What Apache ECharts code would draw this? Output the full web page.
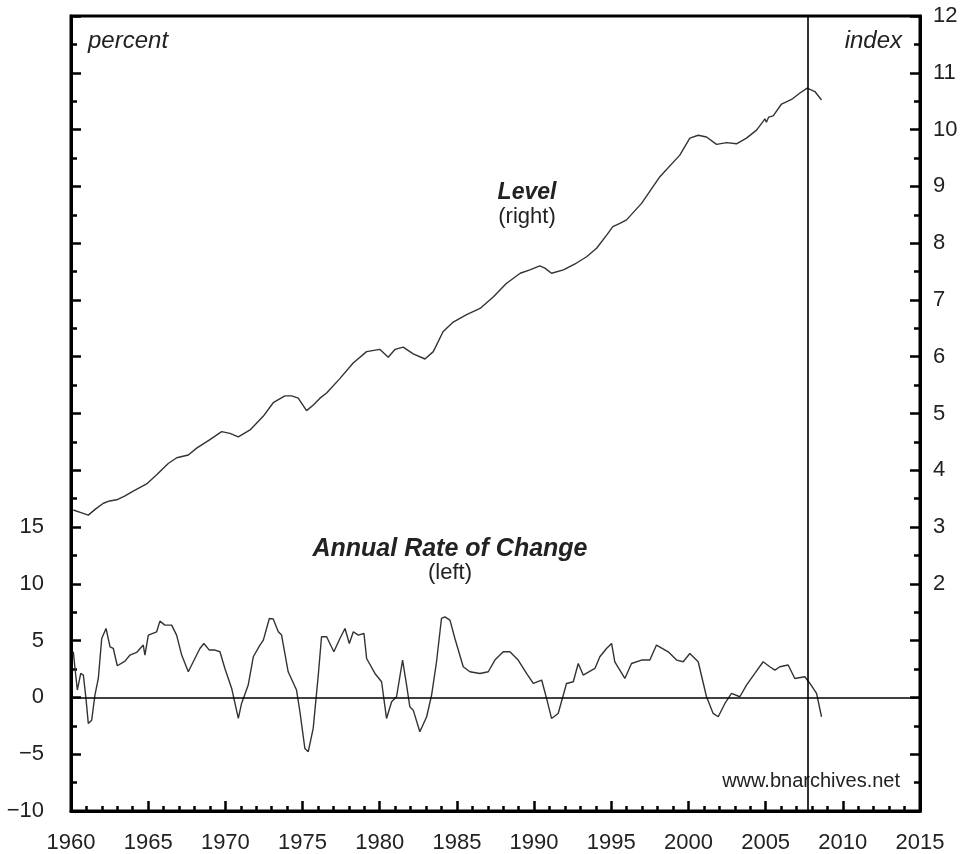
<!DOCTYPE html>
<html>
<head>
<meta charset="utf-8">
<title>Level and Annual Rate of Change</title>
<script src="https://cdn.jsdelivr.net/npm/echarts@6/dist/echarts.min.js"></script>
<style>
  html, body { margin: 0; padding: 0; background: #fff; }
  #chart { width: 963px; height: 854px; }
</style>
</head>
<body>
<div id="chart"></div>
<script>
// level (right axis, index)
const levelYears = [
  1960.15, 1960.6, 1961.12, 1961.6, 1962.1, 1962.5, 1962.96, 1963.5, 1964.0, 1964.9,
  1965.55, 1966.3, 1966.85, 1967.6, 1968.14, 1969.0, 1969.76, 1970.3, 1970.84, 1971.6,
  1972.45, 1973.1, 1973.86, 1974.3, 1974.72, 1975.26, 1975.7, 1976.13, 1976.56, 1977.4,
  1978.28, 1979.15, 1980.0, 1980.55, 1981.0, 1981.52, 1982.17, 1982.93, 1983.47, 1984.1,
  1984.76, 1985.63, 1986.5, 1987.35, 1988.2, 1989.1, 1989.73, 1990.37, 1990.7, 1991.13,
  1991.9, 1992.75, 1993.4, 1994.05, 1994.7, 1995.1, 1995.56, 1995.99, 1996.96, 1998.15,
  1999.44, 2000.09, 2000.63, 2001.17, 2001.82, 2002.47, 2003.11, 2003.76, 2004.41, 2004.85,
  2004.95, 2005.05, 2005.2, 2005.49, 2006.03, 2006.68, 2007.2, 2007.69, 2008.19, 2008.62
];
const levelValues = [
  3.30, 3.26, 3.21, 3.32, 3.42, 3.46, 3.48, 3.55, 3.63, 3.76,
  3.92, 4.12, 4.22, 4.27, 4.39, 4.54, 4.68, 4.65, 4.59, 4.71,
  4.95, 5.19, 5.31, 5.31, 5.27, 5.05, 5.15, 5.27, 5.36, 5.61,
  5.89, 6.09, 6.13, 5.99, 6.13, 6.17, 6.05, 5.96, 6.09, 6.44,
  6.61, 6.74, 6.85, 7.05, 7.29, 7.47, 7.53, 7.60, 7.56, 7.47,
  7.53, 7.65, 7.76, 7.91, 8.14, 8.29, 8.35, 8.41, 8.70, 9.17,
  9.55, 9.85, 9.90, 9.87, 9.74, 9.77, 9.75, 9.85, 9.99, 10.15,
  10.19, 10.13, 10.22, 10.24, 10.45, 10.53, 10.64, 10.73, 10.67, 10.52
];

// annual rate of change (left axis, percent)
const rateYears = [
  1960.15, 1960.26, 1960.41, 1960.63, 1960.8, 1960.97, 1961.12, 1961.34, 1961.55, 1961.77,
  1961.99, 1962.27, 1962.53, 1962.74, 1963.0, 1963.5, 1963.82, 1964.25, 1964.68, 1964.79,
  1965.01, 1965.55, 1965.76, 1966.08, 1966.52, 1966.84, 1967.17, 1967.6, 1967.92, 1968.35,
  1968.61, 1968.96, 1969.33, 1969.65, 1969.97, 1970.41, 1970.84, 1971.05, 1971.48, 1971.81,
  1972.24, 1972.46, 1972.85, 1973.1, 1973.43, 1973.64, 1974.07, 1974.61, 1974.83, 1975.15,
  1975.37, 1975.69, 1976.02, 1976.23, 1976.56, 1976.77, 1977.03, 1977.42, 1977.75, 1978.03,
  1978.29, 1978.61, 1978.98, 1979.15, 1979.69, 1980.12, 1980.44, 1980.77, 1981.09, 1981.48,
  1981.74, 1981.95, 1982.17, 1982.6, 1983.04, 1983.36, 1983.68, 1984.0, 1984.22, 1984.55,
  1984.87, 1985.41, 1985.84, 1986.49, 1987.03, 1987.46, 1988.0, 1988.43, 1988.97, 1989.51,
  1989.95, 1990.49, 1990.81, 1991.13, 1991.56, 1992.1, 1992.54, 1992.86, 1993.18, 1993.94,
  1994.26, 1994.69, 1995.02, 1995.23, 1995.88, 1996.31, 1996.96, 1997.5, 1997.93, 1998.69,
  1999.23, 1999.66, 2000.09, 2000.63, 2001.17, 2001.6, 2001.93, 2002.36, 2002.79, 2003.33,
  2003.76, 2004.3, 2004.84, 2005.27, 2005.6, 2005.92, 2006.46, 2006.89, 2007.54, 2007.87,
  2008.3, 2008.62
];
const rateValues = [
  4.02, 2.55, 0.65, 2.11, 1.97, -0.09, -2.29, -2.0, 0.2, 1.67,
  5.19, 6.07, 4.46, 4.31, 2.79, 3.2, 3.73, 3.96, 4.61, 3.73,
  5.49, 5.78, 6.72, 6.37, 6.37, 5.49, 3.73, 2.26, 3.14, 4.31,
  4.75, 4.17, 4.17, 4.02, 2.55, 0.79, -1.85, -0.53, 1.09, 3.58,
  4.61, 5.05, 6.95, 6.9, 5.78, 5.49, 2.26, 0.65, -1.26, -4.49,
  -4.78, -2.73, 1.97, 5.34, 5.34, 4.75, 4.02, 5.19, 6.07, 4.75,
  5.78, 5.49, 5.63, 3.43, 2.11, 1.38, -1.85, -0.38, 0.06, 3.29,
  1.09, -0.82, -1.12, -3.02, -1.7, 0.21, 3.14, 6.95, 7.1, 6.81,
  5.19, 2.7, 2.26, 2.11, 2.26, 3.29, 4.02, 4.02, 3.29, 2.11,
  1.23, 1.53, -0.09, -1.85, -1.41, 1.23, 1.38, 2.99, 1.97, 2.55,
  3.58, 4.31, 4.75, 3.14, 1.67, 2.99, 3.29, 3.29, 4.61, 4.02,
  3.29, 3.14, 3.87, 3.14, 0.06, -1.41, -1.7, -0.53, 0.35, 0.06,
  1.09, 2.11, 3.14, 2.7, 2.41, 2.7, 2.85, 1.67, 1.82, 1.23,
  0.35, -1.7
];

const yearTicks = [1960, 1965, 1970, 1975, 1980, 1985, 1990, 1995, 2000, 2005, 2010, 2015];
const leftTickLabels = [-10, -5, 0, 5, 10, 15];
const rightTickLabels = [2, 3, 4, 5, 6, 7, 8, 9, 10, 11, 12];
const markerYear = 2007.75;

const FONT = '"Liberation Sans", Arial, Helvetica, sans-serif';
const INK = '#222';

const chart = echarts.init(document.getElementById('chart'));

const axisLine = { show: true, onZero: false, lineStyle: { color: '#000', width: 3 } };
const tickStyle = { color: '#000', width: 2.5 };

const option = {
  animation: false,
  backgroundColor: '#fff',
  grid: {
    left: 71, right: 43, top: 16, bottom: 43,
    show: true, borderColor: '#000', borderWidth: 3
  },
  xAxis: {
    type: 'value',
    min: 1960, max: 2015, interval: 5,
    axisLine: axisLine,
    axisTick: { inside: true, length: 10, lineStyle: tickStyle },
    minorTick: { show: true, splitNumber: 5, length: 5, lineStyle: tickStyle },
    splitLine: { show: false },
    axisLabel: {
      margin: 21, fontSize: 22, color: INK, fontFamily: FONT,
      formatter: v => yearTicks.includes(v) ? String(v) : ''
    }
  },
  yAxis: [
    {
      type: 'value', position: 'left',
      min: -10, max: 60, interval: 5,
      axisLine: axisLine,
      axisTick: { inside: true, length: 10, lineStyle: tickStyle },
      minorTick: { show: true, splitNumber: 2, length: 6, lineStyle: tickStyle },
      splitLine: { show: false },
      axisLabel: {
        margin: 27, fontSize: 22, color: INK, fontFamily: FONT,
        formatter: v => leftTickLabels.includes(v) ? (v < 0 ? '\u2212' + Math.abs(v) : String(v)) : ''
      }
    },
    {
      type: 'value', position: 'right',
      min: -2, max: 12, interval: 1,
      axisLine: axisLine,
      axisTick: { inside: true, length: 10, lineStyle: tickStyle },
      minorTick: { show: true, splitNumber: 2, length: 6, lineStyle: tickStyle },
      splitLine: { show: false },
      axisLabel: {
        margin: 13, fontSize: 22, color: INK, fontFamily: FONT,
        formatter: v => rightTickLabels.includes(v) ? String(v) : ''
      }
    }
  ],
  series: [
    {
      name: 'Level',
      type: 'line',
      yAxisIndex: 1,
      data: levelYears.map((y, i) => [y, levelValues[i]]),
      showSymbol: false,
      lineStyle: { color: '#333', width: 1.4 }
    },
    {
      name: 'Annual Rate of Change',
      type: 'line',
      yAxisIndex: 0,
      data: rateYears.map((y, i) => [y, rateValues[i]]),
      showSymbol: false,
      lineStyle: { color: '#333', width: 1.4 },
      markLine: {
        silent: true,
        symbol: 'none',
        label: { show: false },
        lineStyle: { color: '#000', width: 1.6, type: 'solid' },
        data: [{ yAxis: 0 }, { xAxis: markerYear }]
      }
    }
  ],
  graphic: [
    { type: 'text', style: { text: 'percent', x: 88, y: 41, font: 'italic 24px ' + FONT, fill: INK, align: 'left', verticalAlign: 'middle', textAlign: 'left', textVerticalAlign: 'middle' } },
    { type: 'text', style: { text: 'index', x: 902, y: 41, font: 'italic 24px ' + FONT, fill: INK, align: 'right', verticalAlign: 'middle', textAlign: 'right', textVerticalAlign: 'middle' } },
    { type: 'text', style: { text: 'Level', x: 527, y: 193, font: 'italic bold 23px ' + FONT, fill: INK, align: 'center', verticalAlign: 'middle', textAlign: 'center', textVerticalAlign: 'middle' } },
    { type: 'text', style: { text: '(right)', x: 527, y: 217, font: '22px ' + FONT, fill: INK, align: 'center', verticalAlign: 'middle', textAlign: 'center', textVerticalAlign: 'middle' } },
    { type: 'text', style: { text: 'Annual Rate of Change', x: 450, y: 549, font: 'italic bold 25px ' + FONT, fill: INK, align: 'center', verticalAlign: 'middle', textAlign: 'center', textVerticalAlign: 'middle' } },
    { type: 'text', style: { text: '(left)', x: 450, y: 573, font: '22px ' + FONT, fill: INK, align: 'center', verticalAlign: 'middle', textAlign: 'center', textVerticalAlign: 'middle' } },
    { type: 'text', style: { text: 'www.bnarchives.net', x: 900, y: 781, font: '20px ' + FONT, fill: INK, align: 'right', verticalAlign: 'middle', textAlign: 'right', textVerticalAlign: 'middle' } }
  ]
};

chart.setOption(option);
</script>
</body>
</html>
